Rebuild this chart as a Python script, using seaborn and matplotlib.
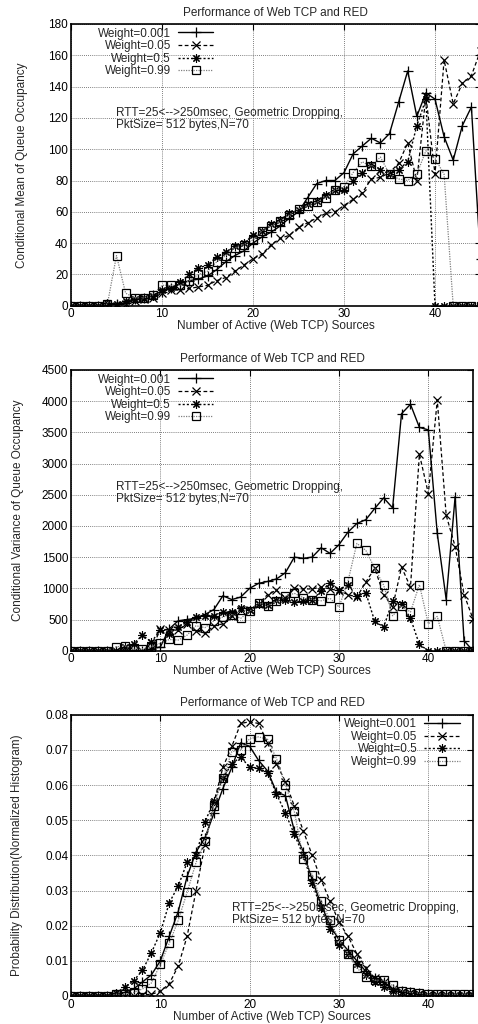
import matplotlib
matplotlib.use("Agg")
import matplotlib.pyplot as plt
import seaborn as sns
import numpy as np

# number of active sources (x) shared by every panel
sources = list(range(46))
weights = ["Weight=0.001", "Weight=0.05", "Weight=0.5", "Weight=0.99"]

# conditional mean of queue occupancy
mean_w0001 = [0, 0, 0, 0, 1, 1, 2, 4, 5, 7, 9, 11, 14, 16, 17, 19, 23, 28, 32, 35,
              40, 44, 47, 51, 56, 60, 69, 78, 80, 80, 85, 97, 102, 107, 104, 110, 130, 150, 121, 136,
              132, 108, 93, 115, 127, 30]
mean_w005 = [0, 0, 0, 0, 0, 0, 1, 3, 4, 5, 8, 10, 10, 11, 12, 13, 16, 18, 22, 26,
             30, 33, 39, 43, 45, 50, 53, 56, 59, 60, 64, 68, 72, 81, 82, 85, 91, 104, 80, 134,
             84, 157, 129, 142, 147, 163]
mean_w05 = [0, 0, 0, 0, 2, 1, 3, 4, 5, 6, 10, 11, 15, 20, 24, 26, 31, 34, 38, 40,
            45, 48, 52, 55, 59, 61, 65, 67, 71, 74, 74, 80, 85, 90, 87, 84, 87, 92, 115, 132,
            0, 0, 0, 0, 0, 0]
mean_w099 = [0, 0, 0, 0, 1, 32, 8, 5, 5, 7, 13, 13, 13, 16, 20, 22, 28, 32, 37, 39,
             42, 48, 51, 54, 58, 62, 64, 66, 69, 74, 76, 85, 92, 89, 95, 84, 81, 80, 84, 99,
             94, 84, 0, 0, 0, 0]

# conditional variance of queue occupancy
var_w0001 = [0, 0, 0, 0, 0, 0, 0, 0, 0, 30, 60, 350, 480, 500, 520, 580, 660, 880, 820, 860,
             1000, 1080, 1110, 1150, 1250, 1500, 1480, 1500, 1650, 1560, 1700, 1900, 2040, 2100, 2280, 2450, 2290, 3800, 3950, 3580,
             3540, 1880, 820, 2470, 160, 0]
var_w005 = [0, 0, 0, 0, 0, 0, 0, 0, 0, 20, 340, 330, 330, 430, 320, 280, 400, 430, 560, 650,
            650, 750, 900, 970, 850, 1000, 990, 990, 1020, 990, 960, 900, 860, 1100, 1320, 900, 700, 1340, 1020, 3150,
            2520, 4020, 2170, 1670, 900, 510]
var_w05 = [0, 0, 0, 0, 0, 0, 60, 110, 250, 140, 330, 270, 380, 460, 540, 560, 560, 620, 620, 680,
           660, 750, 740, 820, 820, 780, 800, 820, 950, 1090, 980, 1060, 870, 930, 470, 380, 800, 750, 520, 100,
           0, 0, 0, 0, 0, 0]
var_w099 = [0, 0, 0, 0, 0, 60, 80, 20, 30, 60, 120, 180, 170, 250, 400, 370, 480, 540, 580, 520,
            630, 760, 720, 790, 870, 920, 850, 820, 800, 840, 700, 1110, 1720, 1610, 1320, 1050, 560, 720, 620, 1060,
            430, 550, 0, 0, 0, 0]

# normalized histogram of active sources
prob_w0001 = [0, 0, 0, 0, 0, 0.0005, 0.001, 0.002, 0.004, 0.006, 0.010, 0.017, 0.024, 0.034, 0.041, 0.045, 0.052, 0.059, 0.065, 0.072,
              0.071, 0.067, 0.064, 0.058, 0.057, 0.047, 0.041, 0.033, 0.026, 0.020, 0.016, 0.013, 0.010, 0.007, 0.005, 0.004, 0.002, 0.0015, 0.001, 0.0008,
              0.0005, 0.0004, 0.0003, 0.0003, 0.0003, 0.0003]
prob_w005 = [0, 0, 0, 0, 0, 0, 0, 0, 0.0003, 0.0005, 0.0013, 0.0035, 0.0085, 0.017, 0.030, 0.043, 0.055, 0.065, 0.071, 0.0775,
             0.078, 0.0775, 0.072, 0.066, 0.061, 0.054, 0.047, 0.040, 0.033, 0.027, 0.021, 0.017, 0.012, 0.008, 0.005, 0.004, 0.002, 0.001, 0.0008, 0.0005,
             0.0003, 0.0002, 0.0002, 0.0001, 0.0001, 0.0001]
prob_w05 = [0, 0, 0, 0, 0, 0.0008, 0.0025, 0.0043, 0.0073, 0.0123, 0.018, 0.0265, 0.0313, 0.038, 0.040, 0.0495, 0.0555, 0.062, 0.066, 0.068,
            0.065, 0.0648, 0.0635, 0.0575, 0.052, 0.046, 0.040, 0.032, 0.025, 0.019, 0.0145, 0.012, 0.009, 0.006, 0.004, 0.0025, 0.0015, 0.001, 0.0008, 0.0005,
            0.0004, 0.0003, 0.0003, 0.0003, 0.0003, 0.0003]
prob_w099 = [0, 0, 0, 0, 0, 0.0005, 0.0005, 0.001, 0.002, 0.0037, 0.009, 0.015, 0.0215, 0.0295, 0.038, 0.044, 0.054, 0.062, 0.0695, 0.070,
             0.0732, 0.0737, 0.073, 0.0675, 0.060, 0.0525, 0.039, 0.0345, 0.027, 0.0215, 0.016, 0.012, 0.008, 0.0055, 0.0045, 0.0045, 0.003, 0.0015, 0.001, 0.0008,
             0.0005, 0.0005, 0.0005, 0.0005, 0.0005, 0.0005]

sns.set_theme(style="white")
plt.rcParams['font.family'] = ['Liberation Sans', 'DejaVu Sans']
plt.rcParams['font.size'] = 8.5

styles = [
    dict(color="black", linestyle="-", marker="+", markersize=7, lw=1.0, markeredgewidth=0.9),
    dict(color="black", linestyle=(0, (3, 2)), marker="x", markersize=5.5, lw=0.9, markeredgewidth=0.9),
    dict(color="black", linestyle=(0, (1.5, 1.5)), marker=(8, 2, 0), markersize=6, lw=1.0, markeredgewidth=0.8),
    dict(color="#808080", linestyle=(0, (1, 1)), marker="s", markersize=6, lw=0.9,
         markerfacecolor="none", markeredgewidth=0.9),
]

W, H = 478, 1024
fig = plt.figure(figsize=(W / 100, H / 100), dpi=100)

def make_axes(left, right, top, bottom):
    return fig.add_axes([left / W, 1 - bottom / H, (right - left) / W, (bottom - top) / H])

panels = [
    (make_axes(71, 480.5, 24, 305.7), [mean_w0001, mean_w005, mean_w05, mean_w099],
     "Conditional Mean of Queue Occupancy", (0, 180), 20, (5, 127),
     ("upper left", (0.057, 1.0)), 28),
    (make_axes(71, 473, 370, 650.7), [var_w0001, var_w005, var_w05, var_w099],
     "Conditional Variance of Queue Occupancy", (0, 4500), 500, (5, 2720),
     ("upper left", (0.058, 1.0)), 24),
    (make_axes(71, 473, 714.7, 996), [prob_w0001, prob_w005, prob_w05, prob_w099],
     "Probability Distribution(Normalized Histogram)", (0, 0.08), 0.01, (18, 0.0268),
     ("upper right", (0.976, 1.0)), 23),
]

for ax, series, ylabel, ylim, ystep, note_xy, (loc, anchor), ylab_x in panels:
    for name, vals, st in zip(weights, series, styles):
        sns.lineplot(x=sources, y=vals, ax=ax, label=name, markeredgecolor="black", **st)
    ax.set_xlim(0, 45)
    ax.set_ylim(*ylim)
    ax.set_xticks(np.arange(0, 41, 10))
    ax.set_yticks(np.arange(0, ylim[1] + ystep / 2, ystep))
    if ystep < 1:
        ax.set_yticklabels(["0"] + [f"{v:.2f}" for v in np.arange(ystep, ylim[1] + ystep / 2, ystep)])
    ax.grid(True, color="#555555", linestyle=(0, (1, 1.5)), linewidth=0.6)
    ax.tick_params(direction="in", length=4, width=0.8, top=True, right=True,
                   labelsize=8.5, pad=2, colors="black")
    for sp in ax.spines.values():
        sp.set_color("black")
        sp.set_linewidth(1.2)
    ax.set_title("Performance of Web TCP and RED", fontsize=8.5, pad=6)
    ax.set_xlabel("Number of Active (Web TCP) Sources", fontsize=8.5, labelpad=0)
    ax.set_ylabel(ylabel, fontsize=8.5)
    ax_w = ax.get_position().width * W
    ax.yaxis.set_label_coords((ylab_x - 71) / ax_w, 0.5)
    ax.text(note_xy[0], note_xy[1], "RTT=25<-->250msec, Geometric Dropping,\nPktSize= 512 bytes,N=70",
            fontsize=8.5, va="top", ha="left", linespacing=1.0)
    leg = ax.legend(loc=loc, bbox_to_anchor=anchor, frameon=False, markerfirst=False,
                    numpoints=1, fontsize=8.5, handlelength=3.0, handletextpad=0.6,
                    labelspacing=0.05, borderaxespad=0.0, borderpad=0.3)
    # gnuplot-style key: labels right-aligned against their samples
    for col in leg._legend_handle_box.get_children():
        col.align = "right"

fig.savefig("out.png", dpi=100)
